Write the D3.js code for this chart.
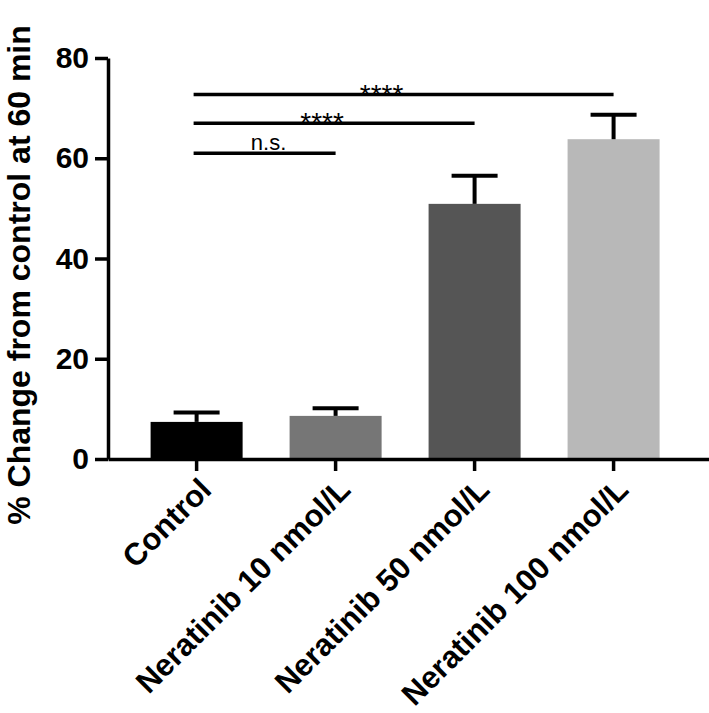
<!DOCTYPE html>
<html>
<head>
<meta charset="utf-8">
<script src="https://cdn.jsdelivr.net/npm/d3@7"></script>
<style>
  html, body { margin: 0; padding: 0; background: #fff; }
  svg { display: block; }
  text { font-family: "Liberation Sans", Arial, Helvetica, sans-serif; }
</style>
</head>
<body>
<svg id="chart" width="709" height="713"></svg>
<script>
// ---- data ----
const categories = ["Control", "Neratinib 10 nmol/L", "Neratinib 50 nmol/L", "Neratinib 100 nmol/L"];
const means = [7.4, 8.6, 50.9, 63.8];
const errors = [1.9, 1.5, 5.6, 4.9];
const barColors = ["#000000", "#767676", "#555555", "#b8b8b8"];
const yTicks = [0, 20, 40, 60, 80];
const yTitle = "% Change from control at 60 min";
const sigFrom = ["Control", "Control", "Control"];
const sigTo = ["Neratinib 10 nmol/L", "Neratinib 50 nmol/L", "Neratinib 100 nmol/L"];
const sigLevel = [61, 67, 72.7];
const sigLabel = ["n.s.", "****", "****"];

// ---- drawing ----
const svg = d3.select("#chart");
const axisX = 108, x1 = 709;
const y = d3.scaleLinear().domain([0, 80]).range([459, 58]);
const x = d3.scaleBand().domain(categories).range([axisX, x1])
  .paddingInner(0.338).paddingOuter(0.331).align(0.463);

const sw = 3.5;

// bars
svg.append("g").selectAll("rect").data(categories).join("rect")
  .attr("x", d => x(d))
  .attr("width", x.bandwidth())
  .attr("y", (d, i) => y(means[i]))
  .attr("height", (d, i) => y(0) - y(means[i]))
  .attr("fill", (d, i) => barColors[i]);

// error bars (upper only)
const capW = 46;
const eb = svg.append("g").attr("stroke", "#000").attr("stroke-width", 4);
categories.forEach((c, i) => {
  const cx = x(c) + x.bandwidth() / 2;
  eb.append("line").attr("x1", cx).attr("x2", cx)
    .attr("y1", y(means[i])).attr("y2", y(means[i] + errors[i]));
  eb.append("line").attr("x1", cx - capW / 2).attr("x2", cx + capW / 2)
    .attr("y1", y(means[i] + errors[i])).attr("y2", y(means[i] + errors[i]));
});

// y axis
const yAxis = svg.append("g").attr("transform", `translate(${axisX},0)`)
  .call(d3.axisLeft(y).tickValues(yTicks).tickSize(13).tickSizeOuter(0).tickPadding(6));
yAxis.selectAll("path, line").attr("stroke", "#000").attr("stroke-width", sw);
yAxis.selectAll("text").attr("font-size", 30).attr("font-weight", "bold").attr("fill", "#000");

// x axis
const xAxis = svg.append("g").attr("transform", `translate(0,${y(0)})`)
  .call(d3.axisBottom(x).tickSize(12).tickSizeOuter(0));
xAxis.selectAll("path, line").attr("stroke", "#000").attr("stroke-width", sw);
xAxis.selectAll("text")
  .attr("font-size", 31).attr("font-weight", "bold").attr("fill", "#000")
  .attr("text-anchor", "end")
  .attr("dy", 0)
  .attr("transform", "translate(6,22) rotate(-45)");

// y title
svg.append("text")
  .attr("transform", `translate(30,275) rotate(-90)`)
  .attr("text-anchor", "middle")
  .attr("font-size", 32).attr("font-weight", "bold").attr("fill", "#000")
  .text(yTitle);

// significance lines
const cxOf = c => x(c) + x.bandwidth() / 2;
const sg = svg.append("g");
const labelDx = [4, -12, -22];
sigLevel.forEach((lv, i) => {
  const xa = cxOf(sigFrom[i]) - 3, xb = cxOf(sigTo[i]);
  sg.append("line").attr("x1", xa).attr("x2", xb)
    .attr("y1", y(lv)).attr("y2", y(lv))
    .attr("stroke", "#000").attr("stroke-width", 3.5);
  const isStar = sigLabel[i].startsWith("*");
  sg.append("text")
    .attr("x", (xa + xb) / 2 + labelDx[i])
    .attr("y", y(lv) + (isStar ? 9 : -3))
    .attr("text-anchor", "middle")
    .attr("font-size", isStar ? 28 : 22)
    .attr("fill", "#000")
    .text(sigLabel[i]);
});
</script>
</body>
</html>
